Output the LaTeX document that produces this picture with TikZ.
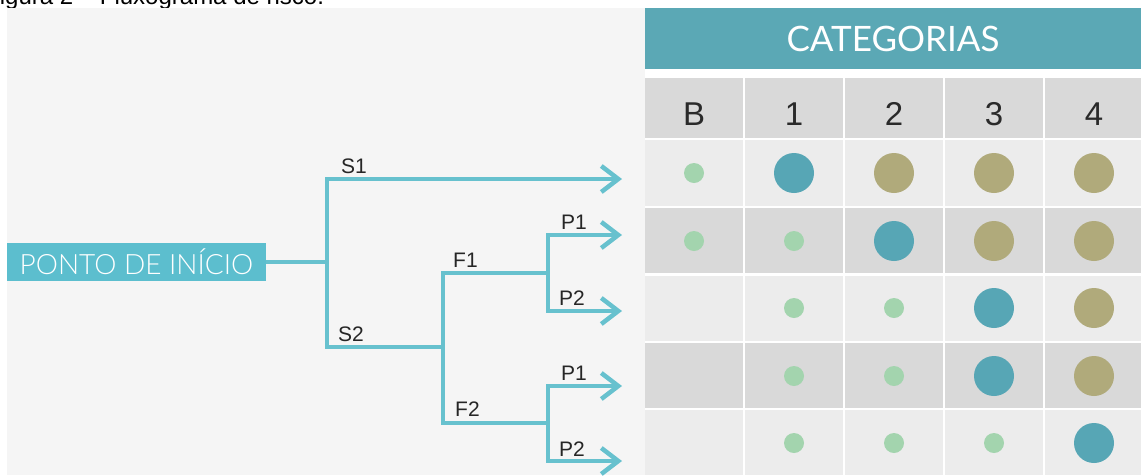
\documentclass[tikz,border=0pt]{standalone}
\usepackage{fontspec}
\setmainfont{Liberation Sans}
\IfFontExistsTF{Lato Light}{\newfontfamily\lightsans{Lato Light}}{\newfontfamily\lightsans{Lato}}
\newfontfamily\headsans{Lato}
\usetikzlibrary{arrows.meta}

\definecolor{panelc}{HTML}{F5F5F5}
\definecolor{headteal}{HTML}{5BA8B5}
\definecolor{startc}{HTML}{5CBECE}
\definecolor{flowc}{HTML}{67C1CE}
\definecolor{celllight}{HTML}{ECECEC}
\definecolor{celldark}{HTML}{D9D9D9}
\definecolor{dotteal}{HTML}{57A6B5}
\definecolor{dotolive}{HTML}{B0AA7B}
\definecolor{dotgreen}{HTML}{A3D4AE}
\definecolor{numc}{HTML}{2A2A2A}
\definecolor{labelc}{HTML}{262626}

\tikzset{
  flow/.style={draw=flowc, line width=4.5pt, line join=miter},
  flowarr/.style={flow, -{Straight Barb[length=17pt,width=26pt]}},
  lbl/.style={font=\fontsize{21}{25}\selectfont, text=labelc, anchor=base west, inner sep=0pt},
  colhead/.style={font=\fontsize{33}{38}\selectfont, text=numc, inner sep=0pt, anchor=base},
  bigdot/.style={circle, inner sep=0pt, minimum size=40pt},
  tdot/.style={bigdot, fill=dotteal},
  odot/.style={bigdot, fill=dotolive},
  gdot/.style={circle, inner sep=0pt, minimum size=20pt, fill=dotgreen},
}

\begin{document}
\begin{tikzpicture}[x=1pt, y=-1pt]
\useasboundingbox (0,0) rectangle (1141,475);
\clip (0,0) rectangle (1141,475);
\fill[white] (0,0) rectangle (1141,475);

% caption line, partly cut off by the top edge
\node[anchor=base west, inner sep=0pt, font=\fontsize{24}{28}\selectfont] (caption) at (-15,4) {Figura 2 – Fluxograma de risco.};

% flowchart panel
\fill[panelc] (7,8) rectangle (645,475);

% table header
\node[fill=headteal, minimum width=496pt, minimum height=61pt, inner sep=0pt,
      text=white, font=\headsans\fontsize{35}{40}\selectfont] (cat) at (893,38.5) {CATEGORIAS};

% column headings
\foreach \c/\lab in {1/B,2/1,3/2,4/3,5/4} {
  \fill[celldark] (545+100*\c,78) rectangle (643+100*\c,138);
  \node[colhead] (h\c) at (594+100*\c,125) {\lab};
}

% table rows
\foreach \r/\top/\bot/\col in {1/140/206/celllight,2/208/273/celldark,3/276/341/celllight,4/343/408/celldark,5/410/475/celllight} {
  \foreach \c in {1,...,5} {
    \fill[\col] (545+100*\c,\top) rectangle (643+100*\c,\bot);
  }
}

% dots
\foreach \c/\k in {1/gdot,2/tdot,3/odot,4/odot,5/odot} \node[\k] (r1c\c) at (594+100*\c,173) {};
\foreach \c/\k in {1/gdot,2/gdot,3/tdot,4/odot,5/odot} \node[\k] (r2c\c) at (594+100*\c,241) {};
\foreach \c/\k in {2/gdot,3/gdot,4/tdot,5/odot} \node[\k] (r3c\c) at (594+100*\c,308) {};
\foreach \c/\k in {2/gdot,3/gdot,4/tdot,5/odot} \node[\k] (r4c\c) at (594+100*\c,376) {};
\foreach \c/\k in {2/gdot,3/gdot,4/gdot,5/tdot} \node[\k] (r5c\c) at (594+100*\c,443) {};

% start node
\node[fill=startc, minimum width=259pt, minimum height=38pt, inner sep=0pt,
      text=white, font=\lightsans\fontsize{28}{32}\selectfont] (start) at (136.5,262) {PONTO DE INÍCIO};

% branch points
\coordinate (j0) at (327,262);
\coordinate (s1) at (327,179);
\coordinate (s2) at (327,347);
\coordinate (fm) at (443,347);
\coordinate (f1) at (443,273);
\coordinate (f2) at (443,423);
\coordinate (g1) at (548,273);
\coordinate (g2) at (548,423);
\coordinate (p11) at (548,235);
\coordinate (p12) at (548,311);
\coordinate (p21) at (548,386);
\coordinate (p22) at (548,461);
% arrow ends
\coordinate (e1) at (622,179);
\coordinate (e2) at (622,235);
\coordinate (e3) at (622,311);
\coordinate (e4) at (622,386);
\coordinate (e5) at (622,461);

\draw[flow] (start.east) -- (j0);
\draw[flowarr] (fm) -- (s2) -- (s1) -- (e1);
\draw[flow] (g1) -- (f1) -- (f2) -- (g2);
\draw[flowarr] (g1) -- (p11) -- (e2);
\draw[flowarr] (g1) -- (p12) -- (e3);
\draw[flowarr] (g2) -- (p21) -- (e4);
\draw[flowarr] (g2) -- (p22) -- (e5);

% branch labels
\node[lbl] (ls1) at (341,173) {S1};
\node[lbl] (ls2) at (338,341) {S2};
\node[lbl] (lf1) at (453,267) {F1};
\node[lbl] (lf2) at (455,416) {F2};
\node[lbl] (lp11) at (561,229) {P1};
\node[lbl] (lp12) at (559,305) {P2};
\node[lbl] (lp21) at (561,380) {P1};
\node[lbl] (lp22) at (559,456) {P2};
\end{tikzpicture}
\end{document}
